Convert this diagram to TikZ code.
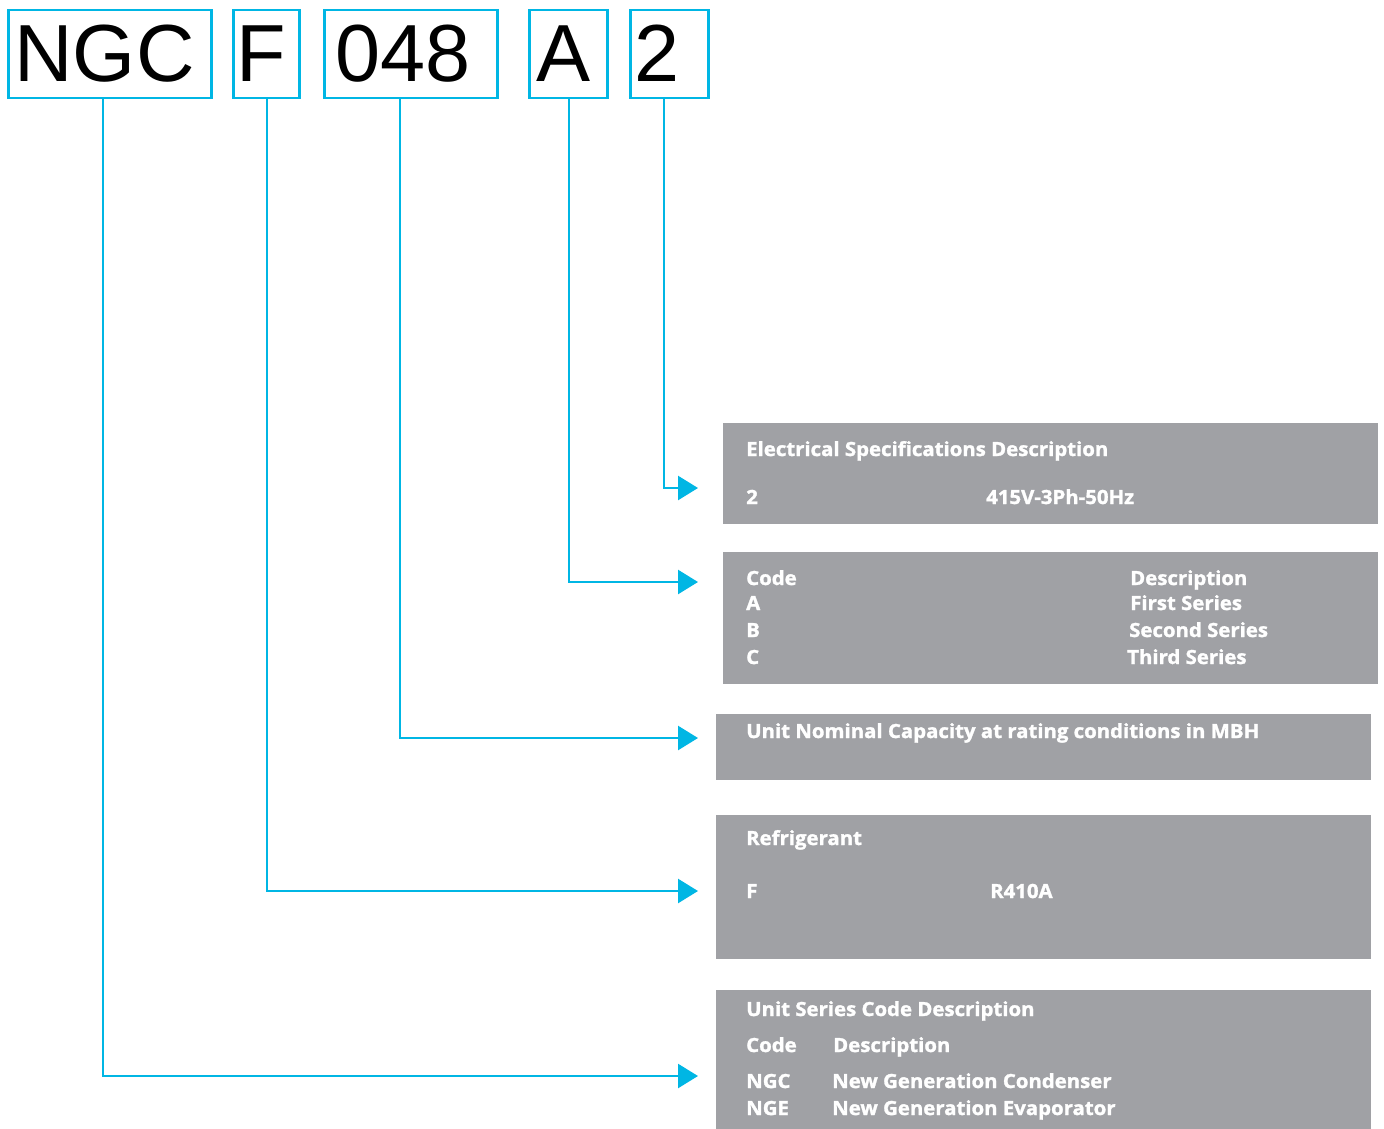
\documentclass[tikz,border=0pt]{standalone}
\usepackage{fontspec}
\setmainfont{Liberation Sans}
\newfontfamily\lblfont{Open Sans Bold}[FakeStretch=1.045,FakeBold=1.5]
\usetikzlibrary{arrows.meta}
\definecolor{cyanline}{RGB}{0,182,228}
\definecolor{panelgray}{RGB}{160,161,165}
\begin{document}
\begin{tikzpicture}[x=1pt,y=-1pt,
  codebox/.style={draw=cyanline, line width=2.5pt, rectangle, minimum height=88pt, inner sep=0pt},
  codetext/.style={anchor=base, inner sep=0pt, font=\fontsize{81}{81}\selectfont},
  graybox/.style={fill=panelgray, draw=none, rectangle, anchor=north west, inner sep=0pt},
  lbl/.style={anchor=base west, inner sep=0pt, text=white, font=\lblfont\fontsize{19.5}{19.5}\selectfont},
  conn/.style={draw=cyanline, line width=2.5pt, -{Triangle[length=20pt,width=24pt]}}]
\useasboundingbox (0,0) rectangle (1384,1128);
\fill[white] (0,0) rectangle (1384,1128);
% code boxes
\node[codebox, minimum width=203pt] (ngc) at (110,54) {};
\node[codebox, minimum width=66pt] (f) at (266.5,54) {};
\node[codebox, minimum width=173pt] (cap) at (411,54) {};
\node[codebox, minimum width=78pt] (a) at (568.5,54) {};
\node[codebox, minimum width=78pt] (two) at (669.5,54) {};
\node[codetext] (ngct) at (104.5,81) {NGC};
\node[codetext] (ft) at (261,81) {F};
\node[codetext] (capt) at (403,81) {048};
\node[codetext] (at) at (564,81) {A};
\node[codetext] (twot) at (657,81) {2};
% panels
\node[graybox, minimum width=655pt, minimum height=101pt] (p1) at (723,423) {};
\node[graybox, minimum width=655pt, minimum height=132pt] (p2) at (723,552) {};
\node[graybox, minimum width=655pt, minimum height=66pt] (p3) at (716,714) {};
\node[graybox, minimum width=655pt, minimum height=144pt] (p4) at (716,815) {};
\node[graybox, minimum width=655pt, minimum height=140pt] (p5) at (716,990) {};
% panel texts
\node[lbl] (t1a) at (746,456) {Electrical Specifications Description};
\node[lbl] (t1b) at (746,504) {2};
\node[lbl] (t1c) at (986,504) {415V-3Ph-50Hz};
\node[lbl] (t2a) at (746,585) {Code};
\node[lbl] (t2b) at (1130,585) {Description};
\node[lbl] (t2c) at (746,610) {A};
\node[lbl] (t2d) at (1130,610) {First Series};
\node[lbl] (t2e) at (746,637) {B};
\node[lbl] (t2f) at (1129,637) {Second Series};
\node[lbl] (t2g) at (746,664) {C};
\node[lbl] (t2h) at (1127,664) {Third Series};
\node[lbl] (t3a) at (746,738) {Unit Nominal Capacity at rating conditions in MBH};
\node[lbl] (t4a) at (746,845) {Refrigerant};
\node[lbl] (t4b) at (746,898) {F};
\node[lbl] (t4c) at (990,898) {R410A};
\node[lbl] (t5a) at (746,1016) {Unit Series Code Description};
\node[lbl] (t5b) at (746,1052) {Code};
\node[lbl] (t5c) at (833,1052) {Description};
\node[lbl] (t5d) at (746,1088) {NGC};
\node[lbl] (t5e) at (832,1088) {New Generation Condenser};
\node[lbl] (t5f) at (746,1115) {NGE};
\node[lbl] (t5g) at (832,1115) {New Generation Evaporator};
% arrow end points
\coordinate (e1) at (698,488);
\coordinate (e2) at (698,582);
\coordinate (e3) at (698,738);
\coordinate (e4) at (698,891);
\coordinate (e5) at (698,1076);
% connectors
\draw[conn] ([xshift=-5.5pt]two.south) |- (e1);
\draw[conn] ([xshift=0.5pt]a.south) |- (e2);
\draw[conn] ([xshift=-11pt]cap.south) |- (e3);
\draw[conn] ([xshift=0.5pt]f.south) |- (e4);
\draw[conn] ([xshift=-7pt]ngc.south) |- (e5);
\end{tikzpicture}
\end{document}
